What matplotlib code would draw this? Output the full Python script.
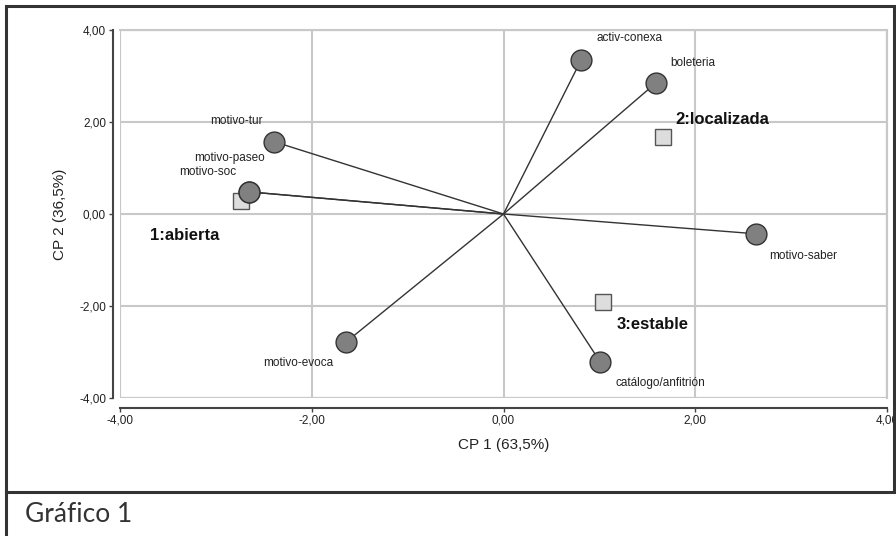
import matplotlib.pyplot as plt
import matplotlib.patches as patches

# variables (circles) and clusters (squares)
var_names = ["activ-conexa", "boleteria", "motivo-tur", "motivo-paseo", "motivo-soc",
             "motivo-saber", "motivo-evoca", "catálogo/anfitrión"]
var_x = [0.81, 1.59, -2.39, -2.65, -2.65, 2.63, -1.64, 1.01]
var_y = [3.35, 2.85, 1.57, 0.48, 0.48, -0.43, -2.78, -3.22]

clu_names = ["1:abierta", "2:localizada", "3:estable"]
clu_x = [-2.74, 1.66, 1.04]
clu_y = [0.28, 1.67, -1.91]

ticks = [-4, -2, 0, 2, 4]
tick_labels = ["-4,00", "-2,00", "0,00", "2,00", "4,00"]

# label offsets in pixels (dx, dy, ha)
var_off = [(15, 22, 'left'), (14, 20, 'left'), (-12, 21, 'right'), (15, 34, 'right'),
           (-13, 20, 'right'), (14, -22, 'left'), (-13, -21, 'right'), (15, -21, 'left')]
clu_off = [(-91, -34, 'left'), (13, 18, 'left'), (13, -23, 'left')]

plt.rcParams['font.family'] = ['Liberation Sans', 'DejaVu Sans']

fig = plt.figure(figsize=(8.96, 5.36), dpi=100)
ax = fig.add_axes([120 / 896, 1 - 398 / 536, 767 / 896, 368 / 536])
ax.set_xlim(-4, 4)
ax.set_ylim(-4, 4)

grid_c = '#c8c8c8'
ax.set_xticks(ticks)
ax.set_yticks(ticks)
ax.set_xticklabels(tick_labels)
ax.set_yticklabels(tick_labels)
ax.grid(True, color=grid_c, linewidth=1.5, zorder=0)
ax.set_axisbelow(True)
for s in ['top', 'right']:
    ax.spines[s].set_color(grid_c)
    ax.spines[s].set_linewidth(1.5)
ax.add_patch(patches.Rectangle((0, 0), 1, 1, transform=ax.transAxes, fill=False,
                               edgecolor=grid_c, linewidth=1.5, zorder=0))
ax.spines['left'].set_position(('outward', 5))
ax.spines['bottom'].set_position(('outward', 7))
for s in ['left', 'bottom']:
    ax.spines[s].set_color('#444444')
    ax.spines[s].set_linewidth(1.5)
ax.tick_params(length=3, width=1, color='#444444', labelsize=8.5, pad=2, labelcolor='#222222')

ax.set_xlabel("CP 1 (63,5%)", fontsize=11, color='#222222', labelpad=8)
ax.set_ylabel("CP 2 (36,5%)", fontsize=11, color='#222222', labelpad=9)

for x, y in zip(var_x, var_y):
    ax.plot([0, x], [0, y], color='#333333', linewidth=1, zorder=2)

ax.plot(clu_x, clu_y, linestyle='none', marker='s', markersize=11.5,
        markerfacecolor='#dddddd', markeredgecolor='#555555', markeredgewidth=1, zorder=3)
ax.plot(var_x, var_y, linestyle='none', marker='o', markersize=15,
        markerfacecolor='#808080', markeredgecolor='#333333', markeredgewidth=1, zorder=4)

for name, x, y, (dx, dy, ha) in zip(var_names, var_x, var_y, var_off):
    ax.annotate(name, (x, y), xytext=(dx, dy), textcoords='offset pixels',
                ha=ha, va='center', fontsize=8.5, color='#222222')
for name, x, y, (dx, dy, ha) in zip(clu_names, clu_x, clu_y, clu_off):
    ax.annotate(name, (x, y), xytext=(dx, dy), textcoords='offset pixels',
                ha=ha, va='center', fontsize=12, fontweight='bold', color='#111111')

# outer frames
fig.patches.append(patches.Rectangle((6 / 896, 1 - 492 / 536), 888 / 896, 486 / 536,
                                     transform=fig.transFigure, fill=False,
                                     edgecolor='#333333', linewidth=2.2))
fig.add_artist(plt.Line2D([6 / 896, 6 / 896], [0, 1 - 492 / 536], transform=fig.transFigure,
                          color='#333333', linewidth=2.2))
fig.text(25 / 896, 1 - 515 / 536, "Gráfico 1", fontsize=19, family=['Lato', 'DejaVu Sans'],
         color='#333333', va='center', ha='left')

fig.savefig("out.png", dpi=100)
